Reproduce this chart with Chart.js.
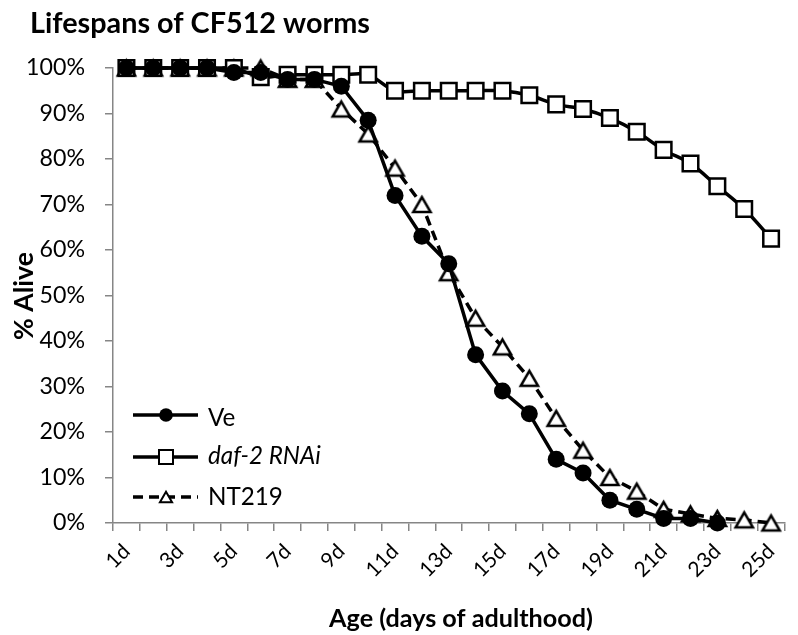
<!DOCTYPE html>
<html>
<head>
<meta charset="utf-8">
<script src="https://cdn.jsdelivr.net/npm/chart.js@4.4.1/dist/chart.umd.min.js"></script>
<style>
html,body{margin:0;padding:0;background:#fff;}
#wrap{width:798px;height:635px;}
</style>
</head>
<body>
<div id="wrap"><canvas id="c" width="798" height="635"></canvas></div>
<script>
const days = ['1d','2d','3d','4d','5d','6d','7d','8d','9d','10d','11d','12d','13d','14d','15d','16d','17d','18d','19d','20d','21d','22d','23d','24d','25d'];
const veAlive = [100,100,100,100,99,99,97.5,97.5,96,88.5,72,63,57,37,29,24,14,11,5,3,1,1,0];
const daf2Alive = [100,100,100,100,100,98,98.5,98.5,98.5,98.5,95,95,95,95,95,94,92,91,89,86,82,79,74,69,62.5];
const nt219Alive = [100,100,100,100,100,100,97.5,97.5,91,85.5,78,70,55,45,38.7,31.8,23,16,10,7,3,2,1,0.7,0];
const yTicks = [0,10,20,30,40,50,60,70,80,90,100];
const titleText = 'Lifespans of CF512 worms';
const xTitle = 'Age (days of adulthood)';
const yTitle = '% Alive';
const seriesNames = ['Ve','daf-2 RNAi','NT219'];

const FONT = 'Lato';
const AXIS = '#868686';

const mctx = document.createElement('canvas').getContext('2d');
function fitSize(text, target, style){
  mctx.font = style + ' 100px ' + FONT;
  const w = mctx.measureText(text).width;
  return Math.round(100 * target / w * 10) / 10;
}
const titleSize = fitSize(titleText, 340, 'bold');
const xTitleSize = fitSize(xTitle, 264, 'bold');
const yTitleSize = fitSize(yTitle, 88, 'bold');
const yTickSize = fitSize('100%', 59, 'normal');
const legSize = fitSize('NT219', 75, 'normal');

function triCanvas(r, lw){
  const s = Math.ceil(2*r + lw*2 + 2);
  const cv = document.createElement('canvas');
  cv.width = s; cv.height = s;
  const c = cv.getContext('2d');
  const w = r*Math.sqrt(3)/2;
  const h = r*1.5;
  const cx = s/2, cy = s/2;
  c.beginPath();
  c.moveTo(cx, cy - h/2);
  c.lineTo(cx + w, cy + h/2);
  c.lineTo(cx - w, cy + h/2);
  c.closePath();
  c.fillStyle = '#fff'; c.fill();
  c.lineWidth = lw; c.strokeStyle = '#000'; c.lineJoin='miter'; c.stroke();
  return cv;
}
const triMarker = triCanvas(10, 2.5);

const decor = {
  id: 'decor',
  afterDraw(chart){
    const ctx = chart.ctx;
    ctx.save();
    ctx.fillStyle = '#000';
    ctx.textBaseline = 'alphabetic';
    ctx.textAlign = 'left';
    ctx.font = 'bold ' + titleSize + 'px ' + FONT;
    ctx.fillText(titleText, 30, 33);
    ctx.textAlign = 'center';
    ctx.font = 'bold ' + xTitleSize + 'px ' + FONT;
    ctx.fillText(xTitle, 461, 627);
    ctx.save();
    ctx.translate(33, 296);
    ctx.rotate(-Math.PI/2);
    ctx.font = 'bold ' + yTitleSize + 'px ' + FONT;
    ctx.fillText(yTitle, 0, 0);
    ctx.restore();
    // legend
    const rows = [415, 457, 497];
    const bases = [426, 464, 505];
    const x0 = 133, x1 = 198, xm = 166;
    ctx.lineWidth = 3.5;
    ctx.strokeStyle = '#000';
    ctx.setLineDash([]);
    ctx.beginPath(); ctx.moveTo(x0, rows[0]); ctx.lineTo(x1, rows[0]); ctx.stroke();
    ctx.beginPath(); ctx.arc(xm, rows[0], 6.8, 0, Math.PI*2); ctx.fill();
    ctx.beginPath(); ctx.moveTo(x0, rows[1]); ctx.lineTo(x1, rows[1]); ctx.stroke();
    ctx.lineWidth = 2;
    ctx.fillStyle = '#fff';
    ctx.fillRect(xm-7, rows[1]-7, 14, 14);
    ctx.strokeRect(xm-7, rows[1]-7, 14, 14);
    ctx.fillStyle = '#000';
    ctx.lineWidth = 3.5;
    ctx.setLineDash([10,6]);
    ctx.beginPath(); ctx.moveTo(x0, rows[2]); ctx.lineTo(x1, rows[2]); ctx.stroke();
    ctx.setLineDash([]);
    ctx.drawImage(triCanvas(7, 2), xm - 10, rows[2] - 10, 20, 20);
    ctx.textAlign = 'left';
    ctx.textBaseline = 'alphabetic';
    ctx.font = legSize + 'px ' + FONT;
    ctx.fillText(seriesNames[0], 208, bases[0]);
    ctx.font = 'italic ' + legSize + 'px ' + FONT;
    ctx.fillText(seriesNames[1], 208, bases[1]);
    ctx.font = legSize + 'px ' + FONT;
    ctx.fillText(seriesNames[2], 208, bases[2]);
    ctx.restore();
  }
};

new Chart(document.getElementById('c'), {
  type: 'line',
  data: {
    labels: days,
    datasets: [
      {
        label: seriesNames[0], data: veAlive, order: 0,
        borderColor: '#000', backgroundColor: '#000', borderWidth: 3.5,
        pointStyle: 'circle', pointRadius: 8.5, pointBackgroundColor: '#000', pointBorderColor: '#000', pointBorderWidth: 0,
        tension: 0, clip: false
      },
      {
        label: seriesNames[1], data: daf2Alive, order: 1,
        borderColor: '#000', backgroundColor: '#fff', borderWidth: 3.5,
        pointStyle: 'rect', pointRadius: 11, pointBackgroundColor: '#fff', pointBorderColor: '#000', pointBorderWidth: 2.5,
        tension: 0.33, clip: false
      },
      {
        label: seriesNames[2], data: nt219Alive, order: 2,
        borderColor: '#000', backgroundColor: '#fff', borderWidth: 3.5, borderDash: [10,6],
        pointStyle: triMarker, pointRadius: 10,
        tension: 0, clip: false
      }
    ]
  },
  options: {
    responsive: false,
    animation: false,
    devicePixelRatio: 1,
    layout: { padding: { top: 68, left: 0, right: 3, bottom: 0 } },
    plugins: { legend: { display: false }, title: { display: false }, tooltip: { enabled: false } },
    scales: {
      x: {
        type: 'category',
        offset: true,
        afterFit(s){ s.height = 112; },
        grid: { display: true, drawOnChartArea: false, drawTicks: true, tickLength: 8, color: AXIS, lineWidth: 1.5, offset: true },
        border: { display: true, color: AXIS, width: 1.5 },
        ticks: {
          autoSkip: false, minRotation: 45, maxRotation: 45, padding: 8,
          color: '#000', font: { family: FONT, size: 21 },
          callback(v, i){ return (i % 2 === 0) ? days[i] : ''; }
        }
      },
      y: {
        min: 0, max: 100,
        afterFit(s){ s.width = 113; },
        afterBuildTicks(s){ s.ticks = yTicks.map(v => ({ value: v })); },
        grid: { display: true, drawOnChartArea: false, drawTicks: true, tickLength: 8, color: AXIS, lineWidth: 1.5 },
        border: { display: true, color: AXIS, width: 1.5 },
        ticks: { padding: 20, color: '#000', font: { family: FONT, size: yTickSize }, callback(v){ return v + '%'; } }
      }
    }
  },
  plugins: [decor]
});
</script>
</body>
</html>
